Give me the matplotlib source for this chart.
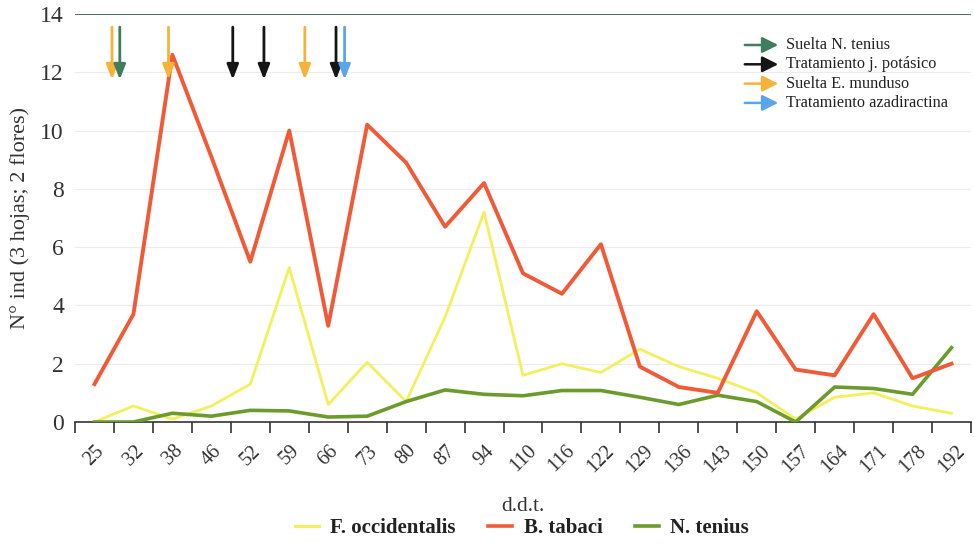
import numpy as np
import matplotlib.pyplot as plt
from matplotlib.lines import Line2D
from matplotlib.patches import FancyArrowPatch

plt.rcParams['font.family'] = ['Liberation Serif', 'DejaVu Serif']

days = ['25', '32', '38', '46', '52', '59', '66', '73', '80', '87', '94', '110',
        '116', '122', '129', '136', '143', '150', '157', '164', '171', '178', '192']
f_occ = [0.0, 0.55, 0.1, 0.55, 1.3, 5.3, 0.6, 2.05, 0.7, 3.6, 7.2, 1.6,
         2.0, 1.7, 2.5, 1.9, 1.5, 1.0, 0.1, 0.85, 1.0, 0.55, 0.3]
b_tab = [1.3, 3.7, 12.6, 9.1, 5.5, 10.0, 3.3, 10.2, 8.9, 6.7, 8.2, 5.1,
         4.4, 6.1, 1.9, 1.2, 1.0, 3.8, 1.8, 1.6, 3.7, 1.5, 2.0]
n_ten = [0.0, 0.0, 0.3, 0.2, 0.4, 0.38, 0.17, 0.2, 0.7, 1.1, 0.95, 0.9,
         1.08, 1.08, 0.85, 0.6, 0.92, 0.7, 0.0, 1.2, 1.15, 0.95, 2.55]

# events (position along category axis, type)
event_pos = [0.45, 0.65, 1.9, 3.55, 4.35, 5.4, 6.2, 6.42]
event_type = ['E', 'N', 'E', 'J', 'J', 'E', 'J', 'A']
event_names = {'N': 'Suelta N. tenius', 'J': 'Tratamiento j. potásico',
               'E': 'Suelta E. munduso', 'A': 'Tratamiento azadiractina'}
event_colors = {'N': '#3f7d5e', 'J': '#151515', 'E': '#f7b23a', 'A': '#5aa6ea'}

c_yel = '#f4ef5c'
c_red = '#f05a36'
c_grn = '#6b9b2c'
txt = '#333333'

fig = plt.figure(figsize=(9.74, 5.45), dpi=100)
ax = fig.add_axes([75/974, 1 - 422/545, 896/974, 408/545])

x = np.arange(len(days))
ax.plot(x, f_occ, color=c_yel, lw=2.0, zorder=3)
ax.plot(x, b_tab, color=c_red, lw=2.8, zorder=4)
ax.plot(x, n_ten, color=c_grn, lw=2.6, zorder=3)

for p, t in zip(event_pos, event_type):
    ax.annotate('', xy=(p, 11.75), xytext=(p, 13.55),
                arrowprops=dict(arrowstyle='-|>,head_length=0.9,head_width=0.35',
                                color=event_colors[t], lw=2.0,
                                shrinkA=0, shrinkB=0), zorder=5)

ax.set_xlim(-0.5, len(days) - 0.5)
ax.set_ylim(0, 14)
ax.set_yticks(np.arange(0, 15, 2))
ax.set_yticklabels([str(v) for v in range(0, 15, 2)], fontsize=17, color=txt)
for v in range(2, 14, 2):
    ax.axhline(v, color='#ececec', lw=0.8, zorder=1)
ax.axhline(14, color='#4d6b5c', lw=1.4, zorder=2)

ax.set_xticks(x)
ax.set_xticklabels(days, rotation=45, fontsize=14.5, color=txt)
ax.set_xticks(np.arange(-0.5, len(days), 1), minor=True)
ax.tick_params(axis='x', which='major', length=0, pad=14)
ax.tick_params(axis='x', which='minor', length=8, width=1.2, color=txt)
ax.tick_params(axis='y', length=0, pad=8)
for s in ['left', 'right', 'top']:
    ax.spines[s].set_visible(False)
ax.spines['bottom'].set_color(txt)
ax.spines['bottom'].set_linewidth(1.2)

ax.set_xlabel('d.d.t.', fontsize=15.5, color=txt, labelpad=15)
ax.set_ylabel('N° ind (3 hojas; 2 flores)', fontsize=16, color=txt, labelpad=7)

# arrow legend
order = ['N', 'J', 'E', 'A']
for i, k in enumerate(order):
    yy = 1 - (45 + i * 19.3) / 545
    fig.patches.append(FancyArrowPatch(
        (742/974, yy), (781/974, yy), transform=fig.transFigure,
        arrowstyle='-|>,head_length=0.8,head_width=0.4', mutation_scale=12,
        color=event_colors[k], lw=1.8))
    fig.text(786/974, yy, event_names[k], fontsize=11.7, va='center', color='#222222')

handles = [Line2D([], [], color=c_yel, lw=2.2),
           Line2D([], [], color=c_red, lw=2.6),
           Line2D([], [], color=c_grn, lw=2.6)]
fig.legend(handles, ['F. occidentalis', 'B. tabaci', 'N. tenius'],
           loc='center', bbox_to_anchor=(522/974, 1 - 528/545), ncol=3,
           frameon=False, handlelength=1.15, columnspacing=1.55, handletextpad=0.55,
           prop={'weight': 'bold', 'size': 15}, labelcolor='#222222')

fig.savefig('out.png', dpi=100)
